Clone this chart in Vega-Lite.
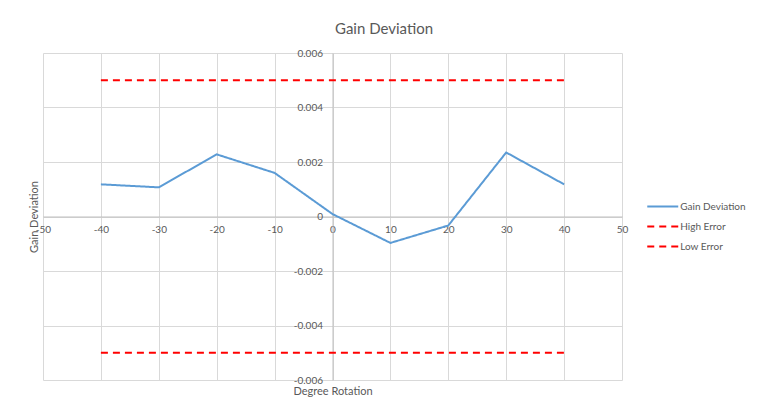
{
  "$schema": "https://vega.github.io/schema/vega-lite/v6.json",
  "width": 579,
  "height": 327,
  "autosize": {"type": "none"},
  "padding": {"left": 43, "top": 53, "right": 135, "bottom": 26},
  "background": "white",
  "title": {
    "text": "Gain Deviation",
    "font": "Lato",
    "fontSize": 15,
    "fontWeight": "normal",
    "color": "#595959",
    "anchor": "middle",
    "frame": "group",
    "dx": 51.5,
    "offset": 11
  },
  "data": {
    "values": [
      {"x": -40, "y": 0.00118, "series": "Gain Deviation"},
      {"x": -30, "y": 0.00107, "series": "Gain Deviation"},
      {"x": -20, "y": 0.00228, "series": "Gain Deviation"},
      {"x": -10, "y": 0.0016, "series": "Gain Deviation"},
      {"x": 0, "y": 0.00009, "series": "Gain Deviation"},
      {"x": 10, "y": -0.00097, "series": "Gain Deviation"},
      {"x": 20, "y": -0.00033, "series": "Gain Deviation"},
      {"x": 30, "y": 0.00235, "series": "Gain Deviation"},
      {"x": 40, "y": 0.00118, "series": "Gain Deviation"},
      {"x": -40, "y": 0.005, "series": "High Error"},
      {"x": 40, "y": 0.005, "series": "High Error"},
      {"x": -40, "y": -0.005, "series": "Low Error"},
      {"x": 40, "y": -0.005, "series": "Low Error"}
    ]
  },
  "mark": {"type": "line", "strokeWidth": 2},
  "encoding": {
    "x": {
      "field": "x",
      "type": "quantitative",
      "scale": {"domain": [-50, 50], "nice": false, "zero": false},
      "axis": {
        "values": [-50, -40, -30, -20, -10, 0, 10, 20, 30, 40, 50],
        "labelExpr": "'' + datum.value",
        "offset": -163.5,
        "ticks": false,
        "labelPadding": 8,
        "labelFlush": false,
        "labelOverlap": false,
        "title": "Degree Rotation",
        "titleY": 175,
        "titleBaseline": "middle",
        "titleFontSize": 11
      }
    },
    "y": {
      "field": "y",
      "type": "quantitative",
      "scale": {"domain": [-0.006, 0.006], "nice": false, "zero": false},
      "axis": {
        "values": [-0.006, -0.004, -0.002, 0, 0.002, 0.004, 0.006],
        "labelExpr": "'' + datum.value",
        "offset": -289.5,
        "ticks": false,
        "labelPadding": 10,
        "labelFlush": false,
        "labelOverlap": false,
        "title": "Gain Deviation",
        "titleX": -298,
        "titleY": 163.5,
        "titleBaseline": "middle",
        "titleFontSize": 11
      }
    },
    "color": {
      "field": "series",
      "type": "nominal",
      "scale": {"domain": ["Gain Deviation", "High Error", "Low Error"], "range": ["#5B9BD5", "#FF0000", "#FF0000"]},
      "legend": {
        "orient": "none",
        "legendX": 610.75,
        "legendY": 144.5,
        "title": null,
        "symbolType": "M-2,0H2",
        "symbolSize": 240,
        "symbolStrokeWidth": 2,
        "symbolFillColor": "transparent",
        "labelFont": "Lato",
        "labelFontSize": 10,
        "labelColor": "#595959",
        "rowPadding": 6,
        "padding": 0,
        "labelOffset": 8.5
      }
    },
    "strokeDash": {
      "field": "series",
      "type": "nominal",
      "scale": {"domain": ["Gain Deviation", "High Error", "Low Error"], "range": [[1, 0], [7, 5], [7, 5]]},
      "legend": {
        "orient": "none",
        "legendX": 610.75,
        "legendY": 144.5,
        "title": null,
        "symbolType": "M-2,0H2",
        "symbolSize": 240,
        "symbolStrokeWidth": 2,
        "symbolFillColor": "transparent",
        "labelFont": "Lato",
        "labelFontSize": 10,
        "labelColor": "#595959",
        "rowPadding": 6,
        "padding": 0,
        "labelOffset": 8.5
      }
    }
  },
  "config": {
    "view": {"stroke": null},
    "axis": {
      "gridColor": "#D9D9D9",
      "gridWidth": 1,
      "domainColor": "#BFBFBF",
      "domainWidth": 1,
      "labelColor": "#595959",
      "labelFont": "Lato",
      "labelFontSize": 10,
      "titleColor": "#595959",
      "titleFont": "Lato",
      "titleFontWeight": "normal"
    }
  }
}
